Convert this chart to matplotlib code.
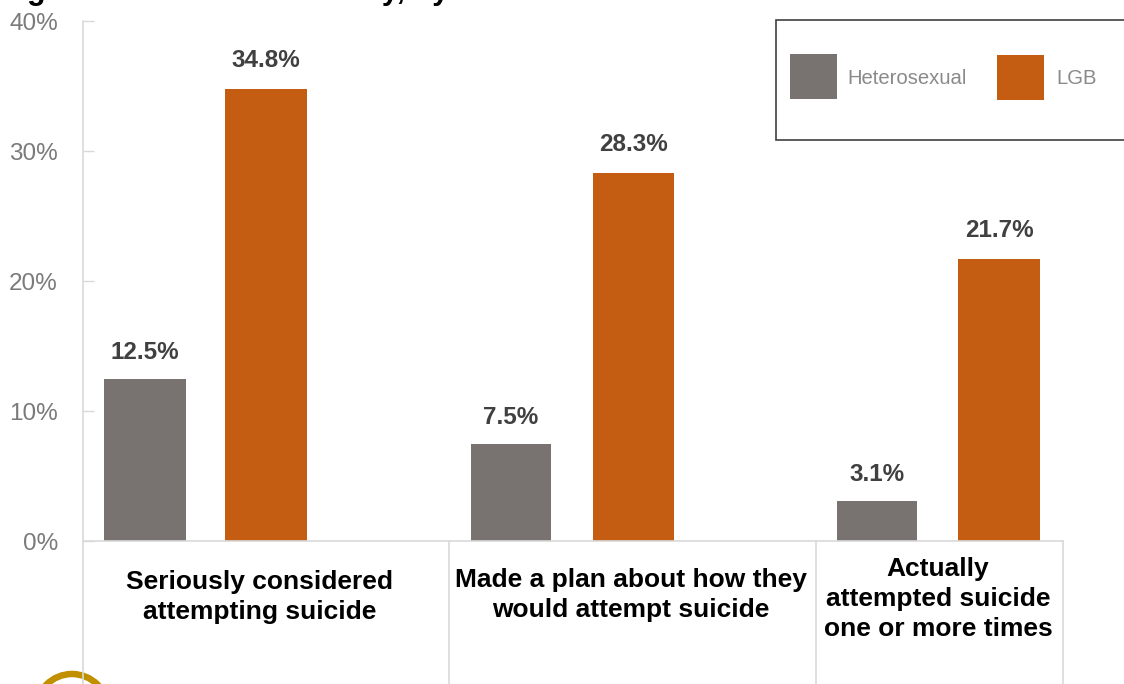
import matplotlib
matplotlib.use("Agg")
import matplotlib.pyplot as plt
from matplotlib.patches import Rectangle, Ellipse

plt.rcParams['font.family'] = ['Liberation Sans', 'DejaVu Sans']

W, H = 1124, 684
values_het = [12.5, 7.5, 3.1]
values_lgb = [34.8, 28.3, 21.7]
het_left = [104, 471, 837]
het_right = [186, 551, 917]
lgb_left = [225, 593, 958]
lgb_right = [307, 674, 1040]
categories = ["Seriously considered\nattempting suicide",
              "Made a plan about how they\nwould attempt suicide",
              "Actually\nattempted suicide\none or more times"]
cat_x = [260, 631, 938]
cat_y = [597, 595, 599]
yticks = [0, 10, 20, 30, 40]
GREY = '#787271'
ORANGE = '#C45C12'

fig = plt.figure(figsize=(W/100, H/100), dpi=100)
ax = fig.add_axes([83/W, 1-541/H, (1063-83)/W, (541-21)/H])
ax.set_xlim(83, 1063)
ax.set_ylim(0, 40)
ax.patch.set_visible(False)

for i in range(3):
    ax.bar((het_left[i]+het_right[i])/2, values_het[i], width=het_right[i]-het_left[i], color=GREY)
    ax.bar((lgb_left[i]+lgb_right[i])/2, values_lgb[i], width=lgb_right[i]-lgb_left[i], color=ORANGE)
    ax.annotate(f"{values_het[i]}%", ((het_left[i]+het_right[i])/2, values_het[i]), xytext=(0, 10.5),
                textcoords='offset points', ha='center', va='bottom', fontsize=17.5, fontweight='bold', color='#404040')
    ax.annotate(f"{values_lgb[i]}%", ((lgb_left[i]+lgb_right[i])/2, values_lgb[i]), xytext=(0, 12),
                textcoords='offset points', ha='center', va='bottom', fontsize=17.5, fontweight='bold', color='#404040')

for s in ['top', 'right']:
    ax.spines[s].set_visible(False)
for s in ['left', 'bottom']:
    ax.spines[s].set_color('#D9D9D9')
    ax.spines[s].set_linewidth(1.2)
ax.set_xticks([])
ax.set_yticks(yticks)
ax.set_yticklabels([f"{v}%" for v in yticks], fontsize=17.5, color='#7A7A7A')
ax.tick_params(axis='y', length=8, direction='in', color='#D9D9D9', pad=18, width=1.0)

# category separators below the axis
for x in [83, 449, 816, 1063]:
    fig.add_artist(plt.Line2D([x/W, x/W], [1-684/H, 1-541/H], color='#D9D9D9', lw=1.2))
for i, c in enumerate(categories):
    fig.text(cat_x[i]/W, 1-cat_y[i]/H, c, ha='center', va='center', fontsize=19, fontweight='bold',
             color='black', linespacing=1.33)

# legend box
fig.add_artist(Rectangle((776/W, 1-140/H), 360/W, 120/H, transform=fig.transFigure,
                         fc='white', ec='#404040', lw=1.2))
fig.add_artist(Rectangle((790/W, 1-99/H), 47/W, 45/H, transform=fig.transFigure, fc=GREY, ec='none'))
fig.add_artist(Rectangle((997/W, 1-100/H), 47/W, 45/H, transform=fig.transFigure, fc=ORANGE, ec='none'))
fig.text(847/W, 1-78/H, "Heterosexual", fontsize=14.6, color='#8A8A8A', va='center')
fig.text(1056/W, 1-78/H, "LGB", fontsize=14.6, color='#8A8A8A', va='center')

# title and badge are cropped by the picture's edges, as in the reference
fig.text(0, 1+1.5/H, "Figure 15: Youth Suicidality, by", fontsize=22, fontweight='bold',
         color='black', va='baseline', ha='left')
fig.add_artist(Ellipse((72/W, 1-710/H), 72/W, 72/H, transform=fig.transFigure,
                       fc='none', ec='#C09000', lw=4.7))
fig.savefig("out.png", dpi=100)
